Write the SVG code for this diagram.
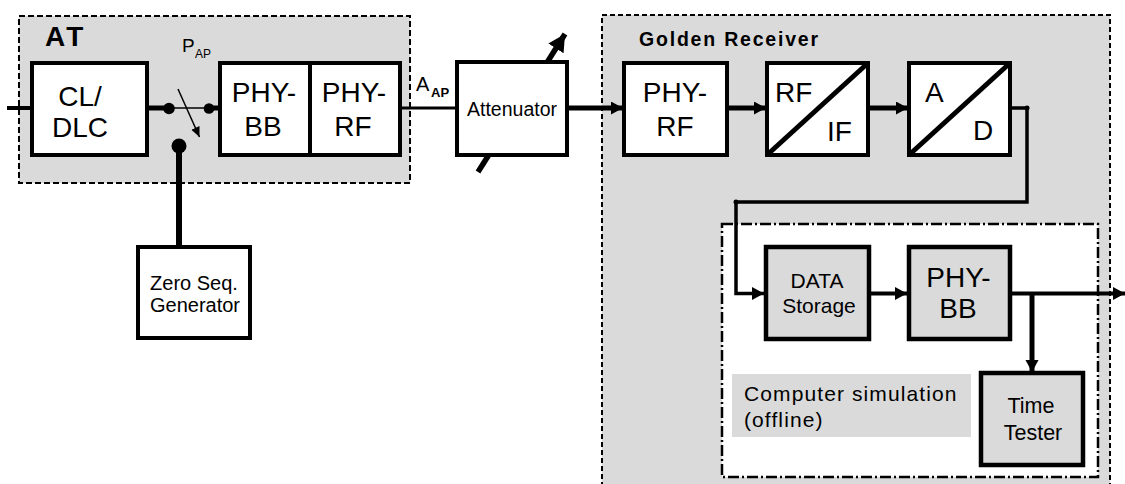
<svg xmlns="http://www.w3.org/2000/svg" width="1125" height="484" viewBox="0 0 1125 484">
<style>
  .box{fill:#fff;stroke:#000;stroke-width:4;stroke-linejoin:miter}
  .gbox{fill:#dadada;stroke:#000;stroke-width:4.5}
  .t{font-family:"Liberation Sans",Arial,sans-serif;fill:#000}
  .big{font-size:28px}
  .ln{fill:none;stroke:#000;stroke-linecap:butt;stroke-linejoin:miter}
</style>
<defs>
  <marker id="ah" markerUnits="userSpaceOnUse" markerWidth="14" markerHeight="14" refX="12" refY="6.5" orient="auto">
    <path d="M0,0 L12,6.5 L0,13 Z" fill="#000"/>
  </marker>
  <marker id="ahs" markerUnits="userSpaceOnUse" markerWidth="12" markerHeight="10" refX="10" refY="4.5" orient="auto">
    <path d="M0,0 L10,4.5 L0,9 Z" fill="#000"/>
  </marker>
  <marker id="ahb" markerUnits="userSpaceOnUse" markerWidth="20" markerHeight="20" refX="17" refY="9" orient="auto">
    <path d="M0,0 L17,9 L0,18 Z" fill="#000"/>
  </marker>
</defs>

<!-- containers -->
<g id="at-group">
  <rect x="19" y="16" width="391" height="167" fill="#dadada" stroke="#000" stroke-width="2" stroke-dasharray="6 3"/>
  <text class="t" x="45" y="46" font-size="28" font-weight="bold" letter-spacing="3">AT</text>
</g>
<g id="golden-receiver">
  <rect x="602" y="15" width="508" height="500" fill="#dadada" stroke="#000" stroke-width="2" stroke-dasharray="5 3"/>
  <text class="t" x="639" y="46" font-size="19.5" font-weight="bold" letter-spacing="1.8">Golden Receiver</text>
</g>
<g id="computer-simulation">
  <rect x="722" y="224" width="376" height="253" fill="#fff" stroke="#000" stroke-width="2.5" stroke-dasharray="11 3 2 3"/>
  <rect x="732" y="374" width="239" height="63" fill="#dadada"/>
  <text class="t" x="744" y="401" font-size="21" letter-spacing="1.1">Computer simulation</text>
  <text class="t" x="744" y="427" font-size="21" letter-spacing="1.1">(offline)</text>
</g>

<!-- connectors -->
<g id="connectors">
  <line class="ln" x1="7" y1="108" x2="32" y2="108" stroke-width="4"/>
  <line class="ln" x1="149" y1="108" x2="169" y2="108" stroke-width="5"/>
  <line class="ln" x1="169" y1="108" x2="209" y2="108" stroke-width="1.5"/>
  <line class="ln" x1="209" y1="108" x2="221" y2="108" stroke-width="5"/>
  <circle cx="169" cy="108.5" r="5.8" fill="#000"/>
  <circle cx="209" cy="108.5" r="5.3" fill="#000"/>
  <line class="ln" x1="178" y1="89" x2="199.5" y2="137" stroke-width="1.5" marker-end="url(#ahs)"/>
  <circle cx="179" cy="146" r="7.5" fill="#000"/>
  <line class="ln" x1="179" y1="146" x2="179" y2="246" stroke-width="6"/>
  <line class="ln" x1="402" y1="108" x2="457" y2="108" stroke-width="3"/>
  <line class="ln" x1="478" y1="172" x2="565" y2="34" stroke-width="5.5" marker-end="url(#ahb)"/>
  <line class="ln" x1="569" y1="108" x2="623" y2="108" stroke-width="5" marker-end="url(#ah)"/>
  <line class="ln" x1="729" y1="108" x2="766" y2="108" stroke-width="5" marker-end="url(#ah)"/>
  <line class="ln" x1="870" y1="108" x2="908" y2="108" stroke-width="5" marker-end="url(#ah)"/>
  <polyline class="ln" points="1012,108 1027,108 1027,202 736,202 736,293.5 764,293.5" stroke-width="3.5" marker-end="url(#ah)"/>
  <circle cx="1027" cy="108" r="2.5" fill="#000"/>
  <circle cx="736" cy="202" r="2.5" fill="#000"/>
  <line class="ln" x1="871" y1="293.5" x2="907" y2="293.5" stroke-width="4" marker-end="url(#ah)"/>
  <line class="ln" x1="1012" y1="293.5" x2="1125" y2="293.5" stroke-width="4" marker-end="url(#ah)"/>
  <line class="ln" x1="1032" y1="293.5" x2="1032" y2="372" stroke-width="5" marker-end="url(#ah)"/>
</g>

<!-- nodes -->
<g id="cl-dlc">
  <rect class="box" x="32" y="63" width="115" height="92"/>
  <text class="t big" x="80" y="106" text-anchor="middle">CL/</text>
  <text class="t big" x="80" y="137" text-anchor="middle">DLC</text>
</g>
<g id="p-ap-label">
  <text class="t" x="182" y="52" font-size="19">P</text>
  <text class="t" x="195" y="58" font-size="12">AP</text>
</g>
<g id="phy-bb-at">
  <rect class="box" x="220" y="63" width="90" height="92"/>
  <text class="t big" x="264" y="102" text-anchor="middle">PHY-</text>
  <text class="t big" x="263" y="136" text-anchor="middle">BB</text>
</g>
<g id="phy-rf-at">
  <rect class="box" x="310" y="63" width="90" height="92"/>
  <text class="t big" x="354" y="102" text-anchor="middle">PHY-</text>
  <text class="t big" x="353" y="136" text-anchor="middle">RF</text>
</g>
<g id="a-ap-label">
  <text class="t" x="416" y="91" font-size="20">A</text>
  <text class="t" x="431" y="97" font-size="13" font-weight="bold">AP</text>
</g>
<g id="zero-seq-generator">
  <rect class="box" x="138" y="247" width="112" height="91" stroke-width="4.5"/>
  <text class="t" x="194" y="290" font-size="20" text-anchor="middle">Zero Seq.</text>
  <text class="t" x="195" y="312" font-size="20" text-anchor="middle">Generator</text>
</g>
<g id="attenuator">
  <rect class="box" x="457" y="62" width="110" height="93"/>
  <text class="t" x="512" y="115.5" font-size="19.5" text-anchor="middle">Attenuator</text>
</g>
<g id="phy-rf-gr">
  <rect class="box" x="624" y="63" width="103" height="92"/>
  <text class="t big" x="675" y="102" text-anchor="middle">PHY-</text>
  <text class="t big" x="675" y="136" text-anchor="middle">RF</text>
</g>
<g id="rf-if">
  <rect class="box" x="767" y="63" width="101" height="92"/>
  <line class="ln" x1="767" y1="155" x2="868" y2="63" stroke-width="5"/>
  <text class="t big" x="775" y="102">RF</text>
  <text class="t big" x="827" y="141">IF</text>
</g>
<g id="a-d">
  <rect class="box" x="909" y="63" width="101" height="92"/>
  <line class="ln" x1="909" y1="155" x2="1010" y2="63" stroke-width="5"/>
  <text class="t big" x="925" y="102">A</text>
  <text class="t big" x="973" y="140">D</text>
</g>
<g id="data-storage">
  <rect class="gbox" x="766" y="247" width="103" height="92"/>
  <text class="t" x="817" y="288" font-size="21" text-anchor="middle">DATA</text>
  <text class="t" x="819" y="313" font-size="21" text-anchor="middle">Storage</text>
</g>
<g id="phy-bb-sim">
  <rect class="gbox" x="909" y="247" width="101" height="92"/>
  <text class="t big" x="958.5" y="287" text-anchor="middle">PHY-</text>
  <text class="t big" x="958" y="318" text-anchor="middle">BB</text>
</g>
<g id="time-tester">
  <rect class="gbox" x="981" y="373" width="102" height="92"/>
  <text class="t" x="1031" y="413" font-size="21.5" text-anchor="middle">Time</text>
  <text class="t" x="1033" y="440" font-size="21.5" text-anchor="middle">Tester</text>
</g>
</svg>
